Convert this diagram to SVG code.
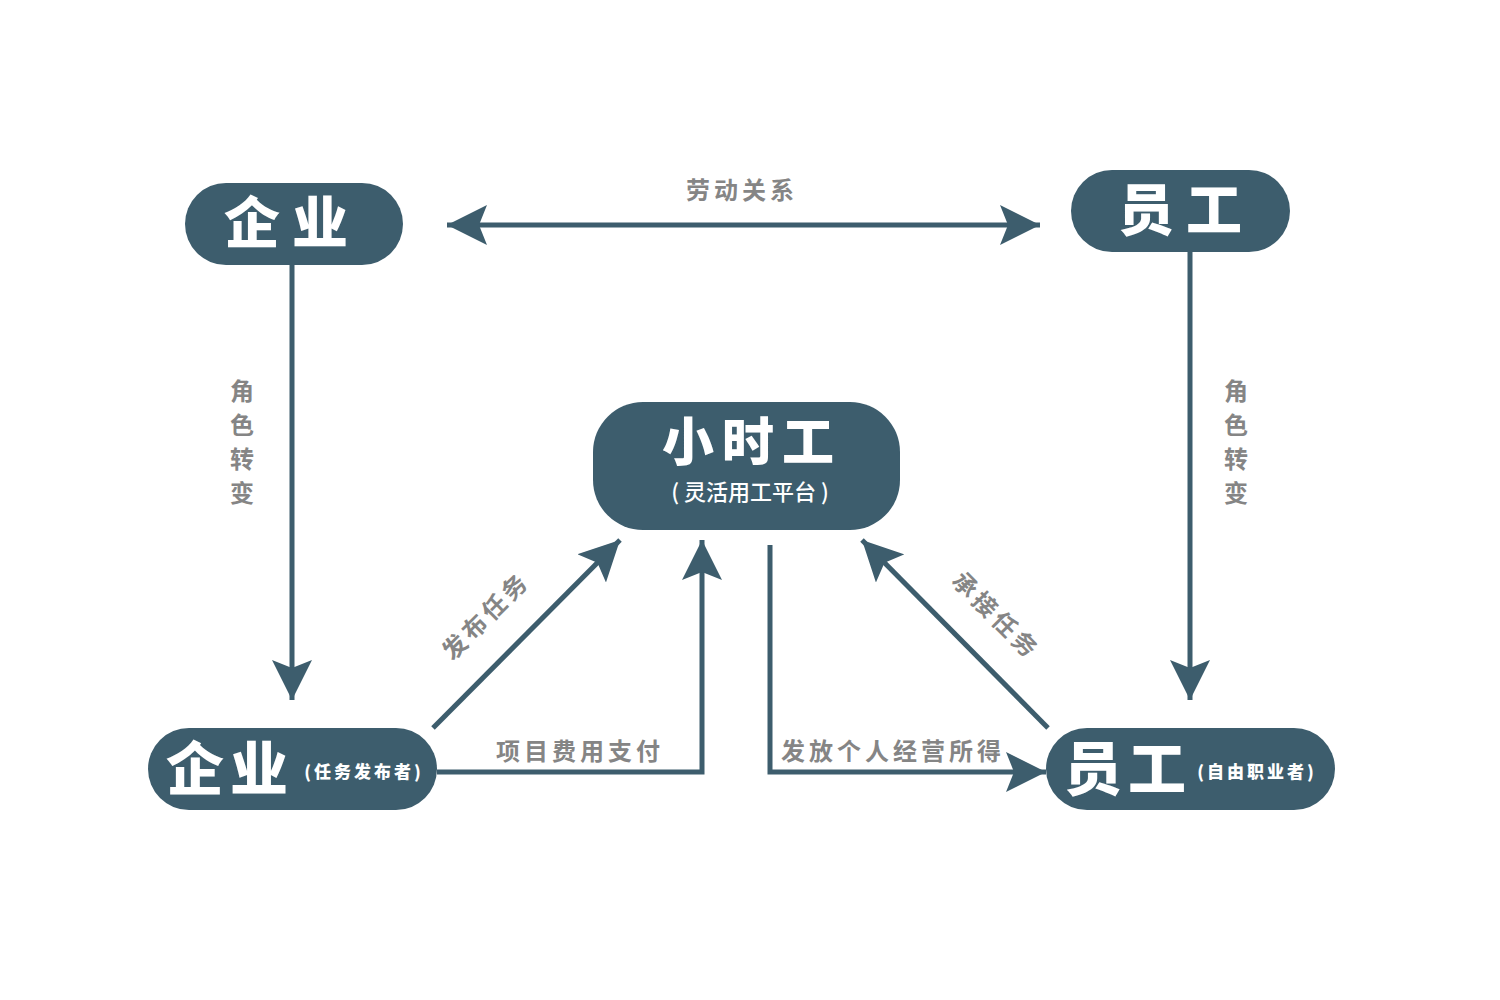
<svg xmlns="http://www.w3.org/2000/svg" width="1500" height="1000" viewBox="0 0 1500 1000">
<style>
.n{fill:#3d5d6d}
.t{fill:#fff;font-family:"Noto Sans CJK SC",sans-serif;font-weight:900;text-anchor:middle}
.l{fill:#858585;font-family:"Noto Sans CJK SC",sans-serif;font-weight:700;font-size:24px;text-anchor:middle;letter-spacing:4px}
.c{fill:none;stroke:#3d5d6d;stroke-width:5}
</style>
<defs>
<marker id="a" markerUnits="userSpaceOnUse" markerWidth="44" markerHeight="40" refX="40" refY="20" orient="auto-start-reverse" viewBox="0 0 44 40"><path d="M0,0 L40,20 L0,40 L8,20 Z" fill="#3d5d6d"/></marker>
</defs>
<rect width="1500" height="1000" fill="#fff"/>
<g id="connectors">
<line class="c" x1="447" y1="225" x2="1040" y2="225" marker-start="url(#a)" marker-end="url(#a)"/>
<line class="c" x1="292" y1="265" x2="292" y2="700" marker-end="url(#a)"/>
<line class="c" x1="1190" y1="252" x2="1190" y2="700" marker-end="url(#a)"/>
<line class="c" x1="433" y1="728" x2="620" y2="540" marker-end="url(#a)"/>
<polyline class="c" points="437,772 702,772 702,540" marker-end="url(#a)"/>
<polyline class="c" points="770,545 770,772 1046,772" marker-end="url(#a)"/>
<line class="c" x1="1048" y1="728" x2="862" y2="540" marker-end="url(#a)"/>
<text class="l" x="742" y="199">劳动关系</text>
<text class="l" x="580" y="760" font-size="22">项目费用支付</text>
<text class="l" x="893" y="760" font-size="22">发放个人经营所得</text>
<text class="l" transform="translate(492,622) rotate(-45)" font-size="28">发布任务</text>
<text class="l" transform="translate(990,622) rotate(45)" font-size="28">承接任务</text>
<text class="l" x="244" y="400">角</text><text class="l" x="244" y="434">色</text><text class="l" x="244" y="468">转</text><text class="l" x="244" y="502">变</text>
<text class="l" x="1238" y="400">角</text><text class="l" x="1238" y="434">色</text><text class="l" x="1238" y="468">转</text><text class="l" x="1238" y="502">变</text>
</g>
<g id="n1"><rect class="n" x="185" y="183" width="218" height="82" rx="41"/><text class="t" x="292" y="243" font-size="56" letter-spacing="12">企业</text></g>
<g id="n2"><rect class="n" x="1071" y="170" width="219" height="82" rx="41"/><text class="t" x="1186" y="230" font-size="56" letter-spacing="12">员工</text></g>
<g id="n3"><rect class="n" x="593" y="402" width="307" height="128" rx="50"/><text class="t" x="752" y="461" font-size="52" letter-spacing="8">小时工</text><text class="t" x="750" y="500" font-size="22" font-weight="500" style="font-weight:500">(  灵活用工平台  )</text></g>
<g id="n4"><rect class="n" x="148" y="728" width="289" height="82" rx="41"/><text class="t" x="230" y="790" font-size="58" letter-spacing="6">企业</text><text class="t" x="364" y="778" font-size="17" letter-spacing="3">(任务发布者)</text></g>
<g id="n5"><rect class="n" x="1046" y="728" width="289" height="82" rx="41"/><text class="t" x="1128" y="790" font-size="58" letter-spacing="6">员工</text><text class="t" x="1257" y="778" font-size="17" letter-spacing="3">(自由职业者)</text></g>
</svg>
